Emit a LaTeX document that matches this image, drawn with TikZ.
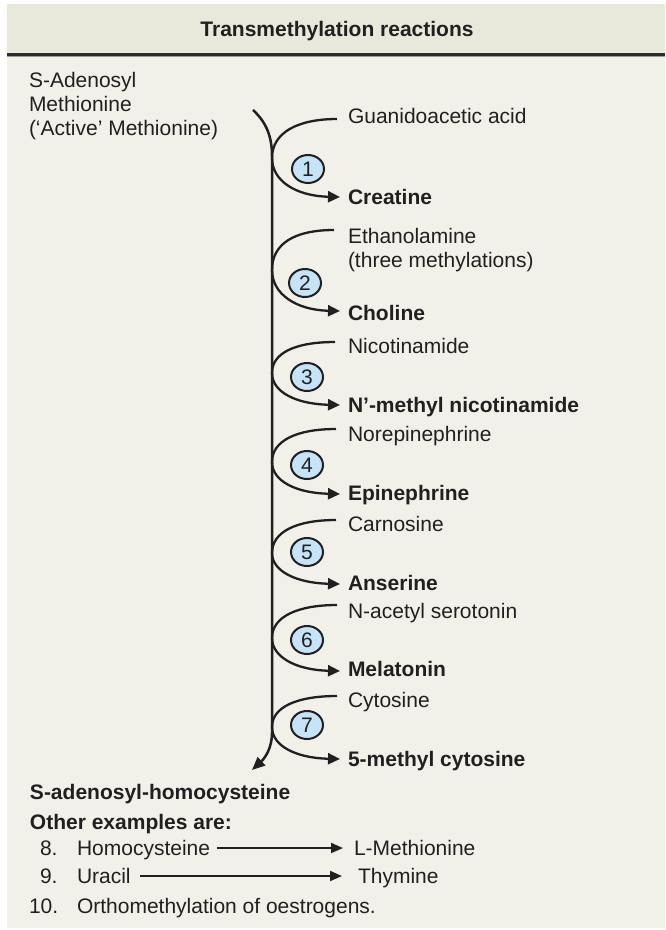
\documentclass[tikz,border=0pt]{standalone}
\usepackage{fontspec}
\setmainfont{Liberation Sans}
\usetikzlibrary{arrows.meta,shapes.geometric}
\definecolor{bodybg}{HTML}{F1F1EA}
\definecolor{headbg}{HTML}{E8E9DA}
\definecolor{ink}{HTML}{231F20}
\definecolor{numfill}{HTML}{C6E4F7}
\begin{document}
\begin{tikzpicture}[x=1pt,y=-1pt,
  every node/.style={inner sep=0pt,outer sep=0pt,text=ink,font=\fontsize{21}{25}\selectfont},
  txt/.style={anchor=base west},
  prod/.style={anchor=base west,font=\fontsize{21}{25}\selectfont\bfseries},
  rxn/.style={draw=ink,line width=2.3pt,-{Triangle[length=12pt,width=11pt]}},
  mainline/.style={draw=ink,line width=2.5pt,-{Triangle[length=13pt,width=11pt]}},
  listarrow/.style={draw=ink,line width=2pt,-{Triangle[length=12pt,width=10pt]}},
  numbox/.style={ellipse,draw=ink,line width=2pt,fill=numfill,minimum width=32pt,minimum height=28pt,font=\fontsize{21}{23}\selectfont}
]
\useasboundingbox (0,0) rectangle (665,930);
\fill[white] (0,0) rectangle (665,930);
\fill[headbg] (7,4) rectangle (665,54);
\fill[bodybg] (7,54) rectangle (665,928);
\draw[line width=2.8pt,color=ink!95] (7,54.7) -- (665,54.7);
\draw[line width=1.3pt,color=ink!45] (7,56.8) -- (665,56.8);

\node[anchor=base,font=\fontsize{21}{25}\selectfont\bfseries] (title) at (337,36) {Transmethylation reactions};

% left source text
\node[txt] (sam1) at (29,87) {S-Adenosyl};
\node[txt] (sam2) at (29,111) {Methionine};
\node[txt] (sam3) at (29,135) {(‘Active’ Methionine)};

% substrates
\node[txt] (a1) at (348,123) {Guanidoacetic acid};
\node[txt] (a2) at (348,243) {Ethanolamine};
\node[txt] (a2b) at (348,267) {(three methylations)};
\node[txt] (a3) at (348,353) {Nicotinamide};
\node[txt] (a4) at (348,441) {Norepinephrine};
\node[txt] (a5) at (348,531) {Carnosine};
\node[txt] (a6) at (348,618) {N-acetyl serotonin};
\node[txt] (a7) at (348,707) {Cytosine};

% products
\node[prod] (b1) at (348,204) {Creatine};
\node[prod] (b2) at (348,320) {Choline};
\node[prod] (b3) at (348,412) {N’-methyl nicotinamide};
\node[prod] (b4) at (348,500) {Epinephrine};
\node[prod] (b5) at (348,590) {Anserine};
\node[prod] (b6) at (348,676) {Melatonin};
\node[prod] (b7) at (348,766) {5-methyl cytosine};

% curve ends
\coordinate (s1) at (337,119); \coordinate (t1) at (340,197);
\coordinate (s2) at (334,230); \coordinate (t2) at (340,311);
\coordinate (s3) at (335,342); \coordinate (t3) at (340,405);
\coordinate (s4) at (336,429); \coordinate (t4) at (340,494);
\coordinate (s5) at (336,520); \coordinate (t5) at (340,584);
\coordinate (s6) at (337,605); \coordinate (t6) at (340,671);
\coordinate (s7) at (337,696); \coordinate (t7) at (340,759);

% main line
\coordinate (mtop) at (253,110);
\coordinate (mend) at (252,770);
\draw[mainline] (mtop) .. controls (266,122) and (272,136) .. (272,156) -- (272,733) .. controls (272,748) and (265,758) .. (mend);

% reaction curves
\draw[rxn] (s1) .. controls (297,119) and (272,133) .. (272,158) .. controls (272,181) and (296,196) .. (t1);
\draw[rxn] (s2) .. controls (294,230) and (272,244) .. (272,270) .. controls (272,294) and (296,310) .. (t2);
\draw[rxn] (s3) .. controls (295,342) and (272,353) .. (272,373) .. controls (272,392) and (296,404) .. (t3);
\draw[rxn] (s4) .. controls (296,429) and (272,441) .. (272,462) .. controls (272,481) and (296,493) .. (t4);
\draw[rxn] (s5) .. controls (296,520) and (272,532) .. (272,553) .. controls (272,571) and (296,583) .. (t5);
\draw[rxn] (s6) .. controls (297,605) and (272,617) .. (272,638) .. controls (272,657) and (296,670) .. (t6);
\draw[rxn] (s7) .. controls (297,696) and (272,707) .. (272,727) .. controls (272,746) and (296,758) .. (t7);

% numbers
\node[numbox] (n1) at (308,169) {1};
\node[numbox] (n2) at (305,283) {2};
\node[numbox] (n3) at (307,377) {3};
\node[numbox] (n4) at (307,465) {4};
\node[numbox] (n5) at (307,552) {5};
\node[numbox] (n6) at (307,640) {6};
\node[numbox] (n7) at (307,725) {7};

% bottom
\node[prod] (sah) at (30,799) {S-adenosyl-homocysteine};
\node[prod] (other) at (30,829) {Other examples are:};

\node[txt] (l8) at (40,855) {8.};
\node[txt] (hcy) at (77,855) {Homocysteine};
\node[txt] (met) at (354,855) {L-Methionine};
\node[txt] (l9) at (40,883) {9.};
\node[txt] (ura) at (77,883) {Uracil};
\node[txt] (thy) at (358,883) {Thymine};
\node[txt] (l10) at (29,913) {10.};
\node[txt] (orth) at (77,913) {Orthomethylation of oestrogens.};

\draw[listarrow] ([xshift=7pt]hcy.east |- 0,848) -- ([xshift=-11pt]met.west |- 0,848);
\draw[listarrow] ([xshift=9pt]ura.east |- 0,876) -- ([xshift=-16pt]thy.west |- 0,876);
\end{tikzpicture}
\end{document}
